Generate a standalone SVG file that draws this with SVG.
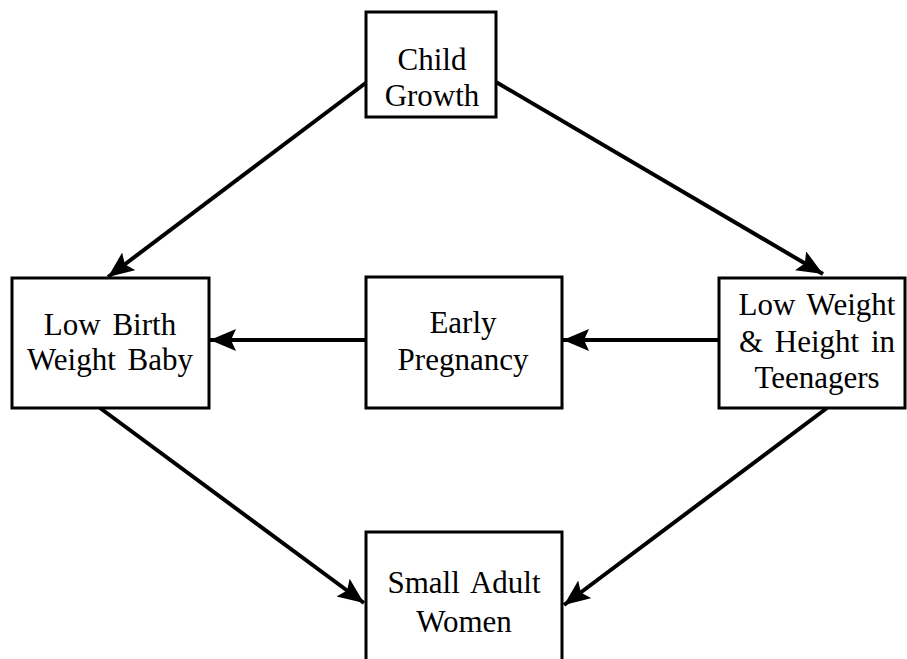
<svg xmlns="http://www.w3.org/2000/svg" width="907" height="659" viewBox="0 0 907 659">
<style>
.box{fill:#fff;stroke:#000;stroke-width:3}
.t{font-family:"Liberation Serif","Times New Roman",serif;font-size:31px;word-spacing:4px;fill:#000;text-anchor:middle}
.c{stroke:#000;stroke-width:4;fill:none;marker-end:url(#ah)}
</style>
<defs>
<marker id="ah" markerUnits="userSpaceOnUse" markerWidth="28" markerHeight="24" refX="26" refY="11" orient="auto">
<path d="M0,0 L26,11 L0,22 L5,11 Z" fill="#000"/>
</marker>
</defs>
<rect width="907" height="659" fill="#fff"/>
<g id="connectors">
<line class="c" x1="367" y1="82" x2="108" y2="277"/>
<line class="c" x1="496" y1="82" x2="823" y2="274"/>
<line class="c" x1="366" y1="340" x2="210" y2="340"/>
<line class="c" x1="719" y1="340" x2="563" y2="340"/>
<line class="c" x1="100" y1="408" x2="364" y2="603"/>
<line class="c" x1="827" y1="408" x2="564" y2="605"/>
</g>
<g id="child-growth">
<rect class="box" x="366" y="12" width="130" height="105"/>
<text class="t" x="432" y="70">Child</text>
<text class="t" x="432" y="106">Growth</text>
</g>
<g id="low-birth-weight-baby">
<rect class="box" x="12" y="278" width="197" height="130"/>
<text class="t" x="110" y="335">Low Birth</text>
<text class="t" x="110" y="370">Weight Baby</text>
</g>
<g id="early-pregnancy">
<rect class="box" x="366" y="277" width="196" height="131"/>
<text class="t" x="463" y="333">Early</text>
<text class="t" x="463" y="370">Pregnancy</text>
</g>
<g id="low-weight-teenagers">
<rect class="box" x="719" y="278" width="186" height="130"/>
<text class="t" x="817" y="315">Low Weight</text>
<text class="t" x="817" y="352">&amp; Height in</text>
<text class="t" x="817" y="388">Teenagers</text>
</g>
<g id="small-adult-women">
<rect class="box" x="366" y="532" width="196" height="140"/>
<text class="t" x="464" y="593">Small Adult</text>
<text class="t" x="464" y="632">Women</text>
</g>
</svg>
